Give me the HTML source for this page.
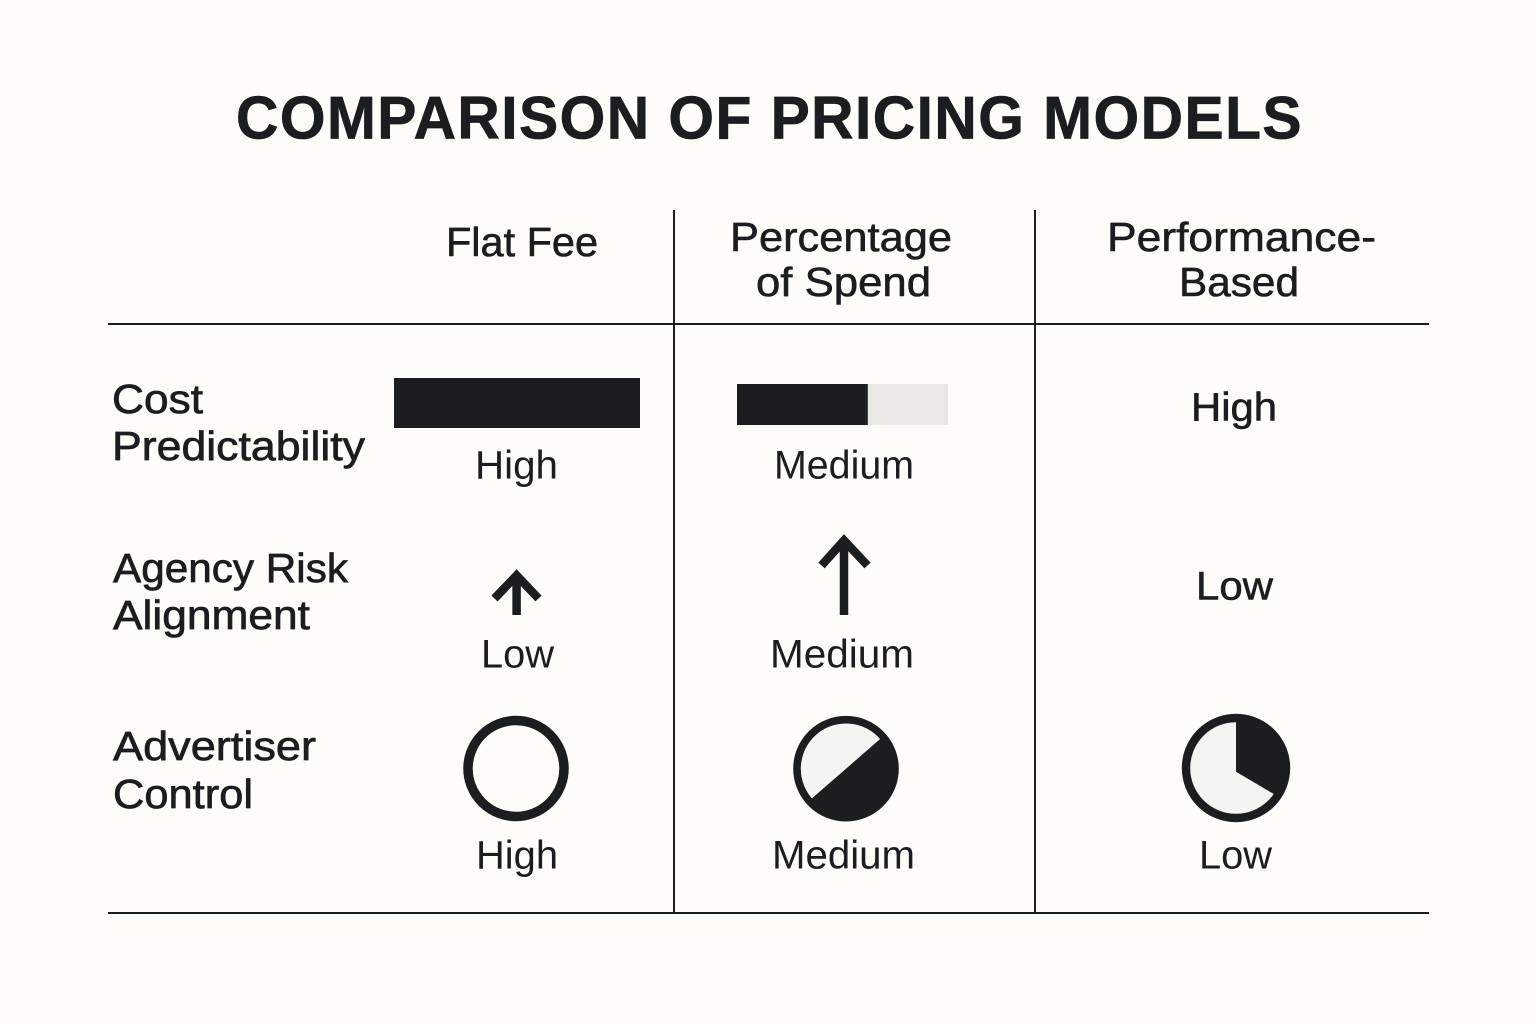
<!DOCTYPE html>
<html lang="en">
<head>
<meta charset="utf-8">
<title>Comparison of Pricing Models</title>
<style>
  html, body { margin: 0; padding: 0; background: #fefcf8; }
  svg { display: block; }
  text { font-family: "Liberation Sans", Arial, sans-serif; fill: #1c1d20; }
  .title { font-size: 60px; font-weight: 700; letter-spacing: 1.5px; stroke: #1c1d20; stroke-width: .7px; }
  .head { font-size: 41px; stroke: #1c1d20; stroke-width: .6px; }
  .row { font-size: 41px; stroke: #1c1d20; stroke-width: .7px; }
  .val { font-size: 40px; }
  .rule { stroke: #1c1d20; stroke-width: 2; }
  .arrow { fill: none; stroke: #1c1d20; stroke-width: 8.5; stroke-linejoin: miter; }
</style>
</head>
<body>
<svg id="chart" width="1536" height="1024" viewBox="0 0 1536 1024" xmlns="http://www.w3.org/2000/svg">
  <rect width="1536" height="1024" fill="#fefcf8"/>
  <text class="title" x="236" y="138.5" textLength="1067" lengthAdjust="spacingAndGlyphs">COMPARISON OF PRICING MODELS</text>

  <line class="rule" x1="108" y1="324" x2="1429" y2="324"/>
  <line class="rule" x1="108" y1="913" x2="1429" y2="913"/>
  <line class="rule" x1="674" y1="210" x2="674" y2="912"/>
  <line class="rule" x1="1035" y1="210" x2="1035" y2="912"/>

  <text class="head" x="446" y="256" textLength="152" lengthAdjust="spacingAndGlyphs">Flat Fee</text>
  <text class="head" x="730" y="251" textLength="222" lengthAdjust="spacingAndGlyphs">Percentage</text>
  <text class="head" x="756" y="296" textLength="175" lengthAdjust="spacingAndGlyphs">of Spend</text>
  <text class="head" x="1107" y="251" textLength="269" lengthAdjust="spacingAndGlyphs">Performance-</text>
  <text class="head" x="1179" y="296" textLength="120" lengthAdjust="spacingAndGlyphs">Based</text>

  <text class="row" x="112" y="413" textLength="91" lengthAdjust="spacingAndGlyphs">Cost</text>
  <text class="row" x="112" y="460" textLength="253" lengthAdjust="spacingAndGlyphs">Predictability</text>
  <text class="row" x="113" y="582" textLength="235" lengthAdjust="spacingAndGlyphs">Agency Risk</text>
  <text class="row" x="113" y="629" textLength="197" lengthAdjust="spacingAndGlyphs">Alignment</text>
  <text class="row" x="113" y="760" textLength="203" lengthAdjust="spacingAndGlyphs">Advertiser</text>
  <text class="row" x="113" y="808" textLength="140" lengthAdjust="spacingAndGlyphs">Control</text>

  <text class="val" x="475" y="478.5" textLength="83" lengthAdjust="spacingAndGlyphs">High</text>
  <text class="val" x="774" y="478.5" textLength="140" lengthAdjust="spacingAndGlyphs">Medium</text>
  <text class="val" x="1191" y="420.5" textLength="86" lengthAdjust="spacingAndGlyphs" stroke="#1c1d20" stroke-width=".6">High</text>
  <text class="val" x="481" y="667.5" textLength="73" lengthAdjust="spacingAndGlyphs">Low</text>
  <text class="val" x="770" y="667.5" textLength="144" lengthAdjust="spacingAndGlyphs">Medium</text>
  <text class="val" x="1196" y="599.5" textLength="77" lengthAdjust="spacingAndGlyphs" stroke="#1c1d20" stroke-width=".6">Low</text>
  <text class="val" x="476" y="868.5" textLength="82" lengthAdjust="spacingAndGlyphs">High</text>
  <text class="val" x="772" y="868.5" textLength="143" lengthAdjust="spacingAndGlyphs">Medium</text>
  <text class="val" x="1199" y="868.5" textLength="73" lengthAdjust="spacingAndGlyphs">Low</text>

  <g>
    <path class="arrow" d="M516.6 615V577M494.5 598.5L516.6 575.4L538.5 598.5"/>
  </g>
  <g>
    <path class="arrow" d="M844 615V543M821.5 565.5L844 540.4L867.5 565.5"/>
  </g>

  <g id="marks"></g>
</svg>
<script>
// Values
const barLabels = ['flat-fee', 'percentage-of-spend'];
const barShares = [1, 0.62];
const pieLabels = ['flat-fee', 'percentage-of-spend', 'performance-based'];
const pieShares = [0, 0.5, 0.345];
const pieStartDegrees = [0, 49, 0];

const NS = 'http://www.w3.org/2000/svg';
const INK = '#1c1d20';
const marks = document.getElementById('marks');

// Axis functions: map a 0..1 share to a width or a sweep angle
function barWidth(share, track) { return share * track; }
function sweep(share) { return share * 360; }

const barFrames = [
  { left: 394, top: 378, track: 246, height: 50 },
  { left: 737, top: 384, track: 211, height: 41 }
];
barShares.forEach(function (share, i) {
  const frame = barFrames[i];
  const track = document.createElementNS(NS, 'rect');
  
  
  track.setAttribute('x', frame.left);
  track.setAttribute('y', frame.top);
  track.setAttribute('width', frame.track);
  track.setAttribute('height', frame.height);
  track.setAttribute('fill', '#e9e7e3');
  marks.appendChild(track);

  const bar = document.createElementNS(NS, 'rect');
  
  
  bar.setAttribute('x', frame.left);
  bar.setAttribute('y', frame.top);
  bar.setAttribute('width', barWidth(share, frame.track));
  bar.setAttribute('height', frame.height);
  bar.setAttribute('fill', INK);
  marks.appendChild(bar);
});

function polar(cx, cy, r, deg) {
  const a = (deg - 90) * Math.PI / 180;
  return [cx + r * Math.cos(a), cy + r * Math.sin(a)];
}

const pieFrames = [
  { cx: 516, cy: 768.5, r: 48, stroke: 9.5, fill: '#fefcf8', hubX: 516, hubY: 768.5 },
  { cx: 846, cy: 768.7, r: 49, stroke: 7.6, fill: '#f4f4f2', hubX: 846, hubY: 768.7 },
  { cx: 1236, cy: 768, r: 50, stroke: 8.4, fill: '#f4f4f2', hubX: 1236, hubY: 771.7 }
];
pieShares.forEach(function (share, i) {
  const f = pieFrames[i];
  const ring = document.createElementNS(NS, 'circle');
  
  
  ring.setAttribute('cx', f.cx);
  ring.setAttribute('cy', f.cy);
  ring.setAttribute('r', f.r);
  ring.setAttribute('fill', f.fill);
  ring.setAttribute('stroke', INK);
  ring.setAttribute('stroke-width', f.stroke);
  marks.appendChild(ring);

  if (share > 0) {
    const start = pieStartDegrees[i];
    const end = start + sweep(share);
    const p0 = polar(f.cx, f.cy, f.r, start);
    const p1 = polar(f.cx, f.cy, f.r, end);
    const large = sweep(share) > 180 ? 1 : 0;
    const wedge = document.createElementNS(NS, 'path');
    
    
    wedge.setAttribute('d', 'M' + f.hubX + ' ' + f.hubY + 'L' + p0[0] + ' ' + p0[1] +
      'A' + f.r + ' ' + f.r + ' 0 ' + large + ' 1 ' + p1[0] + ' ' + p1[1] + 'Z');
    wedge.setAttribute('fill', INK);
    marks.appendChild(wedge);
  }
});
</script>
</body>
</html>
